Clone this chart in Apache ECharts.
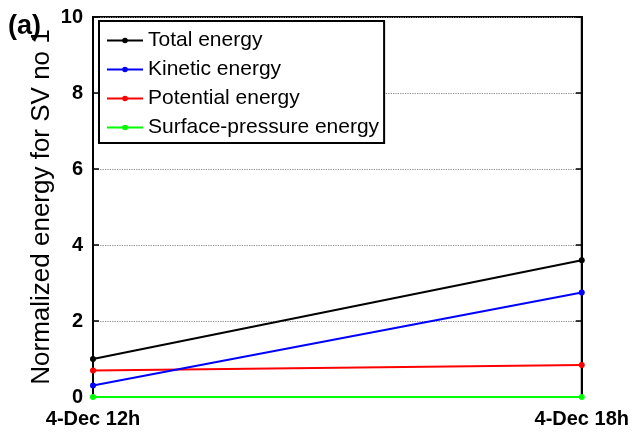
<!DOCTYPE html>
<html>
<head>
<meta charset="utf-8">
<script src="https://cdn.jsdelivr.net/npm/echarts@6/dist/echarts.min.js"></script>
<style>html,body{margin:0;padding:0;background:#fff}#c{width:632px;height:438px}</style>
</head>
<body>
<div id="c"></div>
<script>
var categories = ['4-Dec 12h', '4-Dec 18h'];
var totalEnergy = [1.0, 3.6];
var kineticEnergy = [0.3, 2.75];
var potentialEnergy = [0.7, 0.84];
var surfacePressureEnergy = [0.0, 0.0];
var seriesNames = ['Total energy', 'Kinetic energy', 'Potential energy', 'Surface-pressure energy'];
var seriesColors = ['#000000', '#0000ff', '#ff0000', '#00ff00'];
var seriesData = [totalEnergy, kineticEnergy, potentialEnergy, surfacePressureEnergy];

var chart = echarts.init(document.getElementById('c'), null, {renderer: 'canvas'});
var FONT = 'Liberation Sans, Arial, sans-serif';
var series = seriesNames.map(function (n, i) {
  return {
    name: n, type: 'line', data: seriesData[i],
    symbol: 'circle', symbolSize: 6, showSymbol: true,
    lineStyle: {color: seriesColors[i], width: 2},
    itemStyle: {color: seriesColors[i]},
    z: 3 + (3 - i)
  };
});
var yCommon = {
  type: 'value', min: 0, max: 10, interval: 2
};
chart.setOption({
  animation: false,
  backgroundColor: '#fff',
  grid: {left: 93, right: 48, top: 17, bottom: 41, show: true, borderColor: '#000', borderWidth: 2, backgroundColor: 'transparent', containLabel: false},
  graphic: [{type: 'text', left: 8, top: 13, z: 100, style: {text: '(a)', font: 'bold 27px ' + FONT, fill: '#000'}}],
  legend: {
    orient: 'vertical', left: 99, top: 21,
    data: seriesNames,
    backgroundColor: '#fff', borderColor: '#000', borderWidth: 2, borderRadius: 0,
    padding: [9, 5, 5, 7],
    itemWidth: 36, itemHeight: 7, itemGap: 8,
    textStyle: {fontFamily: FONT, fontSize: 21, color: '#000'}
  },
  xAxis: {
    type: 'category', data: categories, boundaryGap: false,
    axisLine: {lineStyle: {color: '#000', width: 2}},
    axisTick: {show: false},
    axisLabel: {fontFamily: FONT, fontSize: 20, fontWeight: 'bold', color: '#000', margin: 12, interval: 0},
    splitLine: {show: false}
  },
  yAxis: [
    Object.assign({}, yCommon, {
      position: 'left',
      name: 'Normalized energy for SV no 1', nameLocation: 'middle', nameGap: 38,
      nameMoveOverlap: false,
      nameTextStyle: {fontFamily: FONT, fontSize: 26, color: '#000'},
      axisLine: {show: true, lineStyle: {color: '#000', width: 2}},
      axisTick: {show: true, inside: true, length: 6, lineStyle: {color: '#000', width: 1.5}},
      axisLabel: {fontFamily: FONT, fontSize: 20, fontWeight: 'bold', color: '#000', margin: 10},
      splitLine: {show: true, lineStyle: {color: '#888', type: 'dotted', width: 1.2}}
    }),
    Object.assign({}, yCommon, {
      position: 'right',
      axisLine: {show: true, lineStyle: {color: '#000', width: 2}},
      axisTick: {show: true, inside: true, length: 6, lineStyle: {color: '#000', width: 1.5}},
      axisLabel: {show: false},
      splitLine: {show: false}
    })
  ],
  series: series
});
</script>
</body>
</html>
